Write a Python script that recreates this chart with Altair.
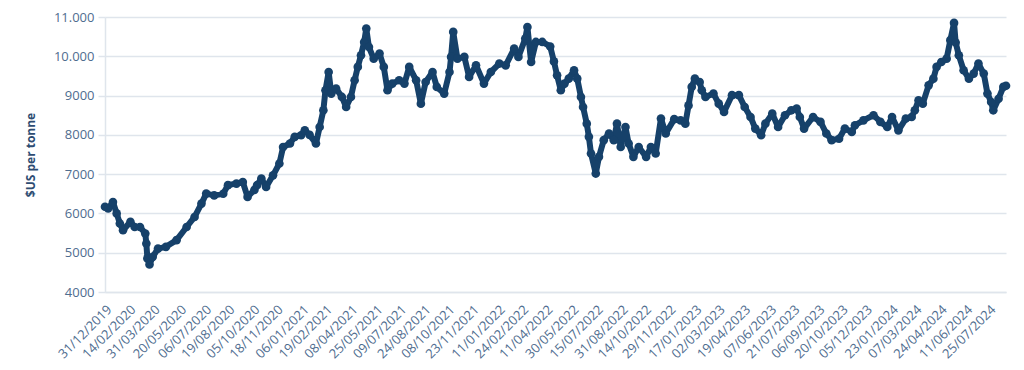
import altair as alt
import pandas as pd

dates = [
    "2019-12-31", "2020-01-06", "2020-01-15", "2020-01-22", "2020-01-28", "2020-02-03",
    "2020-02-17", "2020-02-25", "2020-03-06", "2020-03-16", "2020-03-18", "2020-03-20",
    "2020-03-24", "2020-03-30", "2020-04-09", "2020-04-24", "2020-05-14", "2020-06-02",
    "2020-06-17", "2020-06-30", "2020-07-09", "2020-07-24", "2020-08-10", "2020-08-19",
    "2020-09-04", "2020-09-16", "2020-09-25", "2020-10-08", "2020-10-13", "2020-10-21",
    "2020-10-30", "2020-11-12", "2020-11-24", "2020-12-01", "2020-12-14", "2020-12-23",
    "2021-01-04", "2021-01-11", "2021-01-20", "2021-02-01", "2021-02-08", "2021-02-15",
    "2021-02-19", "2021-02-25", "2021-03-02", "2021-03-11", "2021-03-22", "2021-03-30",
    "2021-04-08", "2021-04-15", "2021-04-21", "2021-04-27", "2021-05-03", "2021-05-07",
    "2021-05-12", "2021-05-21", "2021-06-01", "2021-06-09", "2021-06-16", "2021-06-25",
    "2021-07-08", "2021-07-18", "2021-07-27", "2021-08-09", "2021-08-18", "2021-08-27",
    "2021-09-09", "2021-09-17", "2021-10-01", "2021-10-11", "2021-10-14", "2021-10-18",
    "2021-10-26", "2021-11-08", "2021-11-17", "2021-11-30", "2021-12-15", "2021-12-28",
    "2022-01-13", "2022-01-25", "2022-02-10", "2022-02-18", "2022-03-03", "2022-03-07",
    "2022-03-14", "2022-03-23", "2022-04-04", "2022-04-19", "2022-04-26", "2022-05-02",
    "2022-05-09", "2022-05-16", "2022-05-24", "2022-06-03", "2022-06-09", "2022-06-16",
    "2022-06-20", "2022-06-27", "2022-07-01", "2022-07-05", "2022-07-14", "2022-07-20",
    "2022-07-29", "2022-08-08", "2022-08-17", "2022-08-23", "2022-08-30", "2022-09-08",
    "2022-09-14", "2022-09-23", "2022-10-03", "2022-10-17", "2022-10-26", "2022-11-04",
    "2022-11-14", "2022-11-23", "2022-12-09", "2022-12-21", "2022-12-30", "2023-01-05",
    "2023-01-11", "2023-01-17", "2023-01-26", "2023-01-30", "2023-02-06", "2023-02-21",
    "2023-03-03", "2023-03-13", "2023-03-28", "2023-04-10", "2023-04-21", "2023-05-02",
    "2023-05-11", "2023-05-22", "2023-05-30", "2023-06-12", "2023-06-23", "2023-07-06",
    "2023-07-18", "2023-07-28", "2023-08-03", "2023-08-11", "2023-08-28", "2023-09-11",
    "2023-09-22", "2023-10-02", "2023-10-16", "2023-10-27", "2023-11-09", "2023-11-15",
    "2023-12-01", "2023-12-20", "2024-01-02", "2024-01-15", "2024-01-24", "2024-02-05",
    "2024-02-19", "2024-03-01", "2024-03-07", "2024-03-14", "2024-03-22", "2024-04-02",
    "2024-04-11", "2024-04-17", "2024-04-26", "2024-05-06", "2024-05-13", "2024-05-20",
    "2024-05-23", "2024-05-29", "2024-06-07", "2024-06-17", "2024-06-26", "2024-07-05",
    "2024-07-15", "2024-07-22", "2024-07-29", "2024-08-02", "2024-08-12", "2024-08-21",
    "2024-08-26",
]

prices = [
    6170, 6130, 6290, 6000, 5745, 5575,
    5785, 5655, 5655, 5490, 5235, 4855,
    4700, 4895, 5105, 5150, 5320, 5655,
    5910, 6250, 6505, 6460, 6500, 6720,
    6760, 6800, 6420, 6600, 6720, 6890,
    6675, 6970, 7270, 7690, 7780, 7950,
    7990, 8115, 8000, 7780, 8200, 8625,
    9135, 9600, 9050, 9180, 8965, 8710,
    8965, 9390, 9730, 10025, 10365, 10705,
    10235, 9940, 10070, 9730, 9135, 9305,
    9390, 9305, 9730, 9390, 8795, 9345,
    9600, 9220, 9050, 9600, 9985, 10620,
    9940, 9985, 9475, 9770, 9305, 9600,
    9815, 9770, 10195, 9985, 10450, 10745,
    9855, 10365, 10365, 10250, 9870, 9515,
    9135, 9305, 9430, 9645, 9430, 8965,
    8710, 8285, 7950, 7525, 7015, 7440,
    7865, 8035, 7865, 8285, 7690, 8200,
    7780, 7440, 7690, 7440, 7690, 7525,
    8415, 8035, 8400, 8370, 8285, 8750,
    9220, 9430, 9345, 9135, 8965, 9050,
    8795, 8585, 9010, 9010, 8710, 8455,
    8160, 7990, 8285, 8540, 8200, 8500,
    8625, 8670, 8455, 8160, 8455, 8330,
    8035, 7865, 7900, 8160, 8075, 8245,
    8370, 8500, 8330, 8200, 8455, 8115,
    8415, 8455, 8625, 8880, 8795, 9260,
    9430, 9730, 9855, 9940, 10410, 10850,
    10350, 10025, 9645, 9430, 9560, 9815,
    9560, 9050, 8835, 8625, 8920, 9220,
    9250,
]

tick_labels = [
    "31/12/2019", "14/02/2020", "31/03/2020", "20/05/2020", "06/07/2020", "19/08/2020",
    "05/10/2020", "18/11/2020", "06/01/2021", "19/02/2021", "08/04/2021", "25/05/2021",
    "09/07/2021", "24/08/2021", "08/10/2021", "23/11/2021", "11/01/2022", "24/02/2022",
    "11/04/2022", "30/05/2022", "15/07/2022", "31/08/2022", "14/10/2022", "29/11/2022",
    "17/01/2023", "02/03/2023", "19/04/2023", "07/06/2023", "21/07/2023", "06/09/2023",
    "20/10/2023", "05/12/2023", "23/01/2024", "07/03/2024", "24/04/2024", "11/06/2024",
    "25/07/2024",
]

NAVY = "#16416a"
LABEL = "#4f6d8f"
GRID = "#dfe5ec"
FONT = "Open Sans"

df = pd.DataFrame({"date": dates, "price": prices})

tick_values = []
for s in tick_labels:
    d, m, y = s.split("/")
    tick_values.append(alt.DateTime(year=int(y), month=int(m), date=int(d), utc=True))

x_enc = alt.X(
    "date:T",
    scale=alt.Scale(
        type="utc",
        domain=[alt.DateTime(year=2019, month=12, date=31, utc=True),
                alt.DateTime(year=2024, month=8, date=26, utc=True)],
    ),
    axis=alt.Axis(
        values=tick_values,
        labelExpr="utcFormat(datum.value, '%d/%m/%Y')",
        labelAngle=-45,
        labelAlign="right",
        labelBaseline="top",
        labelFont=FONT,
        labelFontSize=13,
        labelColor=LABEL,
        labelPadding=11,
        labelOverlap=False,
        labelFlush=False,
        ticks=False,
        domain=True,
        domainColor=GRID,
        domainWidth=1.5,
        grid=False,
        title=None,
    ),
)

y_enc = alt.Y(
    "price:Q",
    scale=alt.Scale(domain=[4000, 11000], nice=False, zero=False),
    axis=alt.Axis(
        values=[4000, 5000, 6000, 7000, 8000, 9000, 10000, 11000],
        labelExpr="datum.value >= 10000 ? replace(format(datum.value, ','), ',', '.') : format(datum.value, 'd')",
        labelFont=FONT,
        labelFontSize=13,
        labelColor=LABEL,
        labelPadding=4,
        ticks=True,
        tickSize=7,
        tickColor=GRID,
        tickWidth=1.5,
        domain=True,
        domainColor=GRID,
        domainWidth=1.5,
        grid=True,
        gridColor=GRID,
        gridWidth=1.5,
        title="$US per tonne",
        titleFont=FONT,
        titleFontSize=12,
        titleFontWeight="bold",
        titleColor="#2d4c72",
        titlePadding=16,
    ),
)

base = alt.Chart(df).encode(x=x_enc, y=y_enc)
line = base.mark_line(color=NAVY, strokeWidth=6, strokeJoin="round")
pts = base.mark_circle(color=NAVY, size=75, opacity=1)

chart = alt.layer(line, pts).properties(
    width=901,
    height=275,
    padding={"left": 97, "top": 9, "right": 6, "bottom": 76},
    autosize=alt.AutoSizeParams(type="none"),
).configure_view(stroke=None)

chart.save("out.html", embed_options={"renderer": "svg", "actions": False})
